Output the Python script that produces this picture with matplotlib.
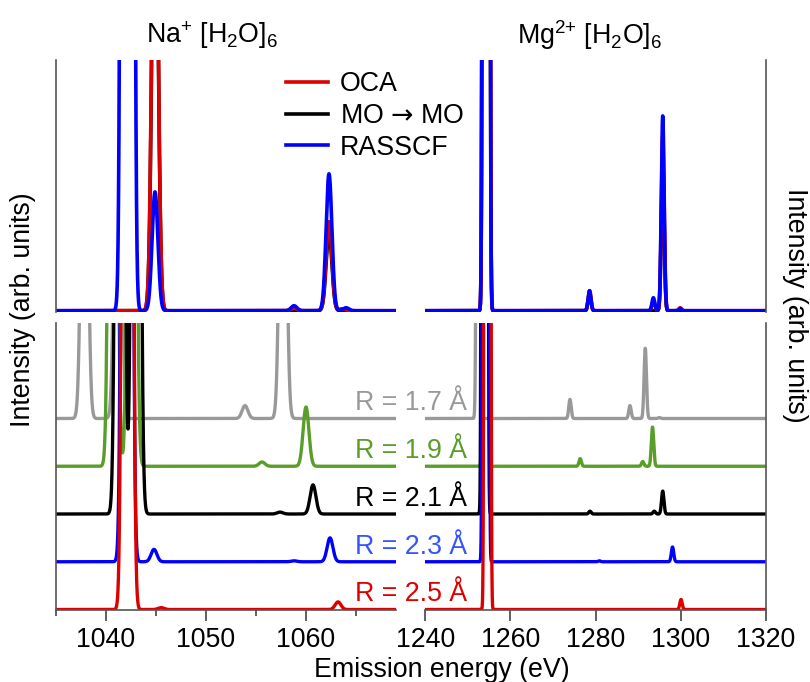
import numpy as np
import matplotlib
matplotlib.use('Agg')
import matplotlib.pyplot as plt
from matplotlib import transforms

#############################################################################################
#                                          DATOS
# picos (posicion en eV, altura); se ensanchan con una gaussiana
# panel superior Na+ [H2O]6
na_oca_pos = [1044.9, 1058.8, 1062.3, 1063.6]
na_oca_int = [2.1, 0.01, 0.355, 0.008]
na_mo_pos = [1044.9, 1062.3]
na_mo_int = [2.0, 0.31]
na_ras_pos = [1042.15, 1044.9, 1058.8, 1062.3, 1064.0]
na_ras_int = [55.0, 0.474, 0.02, 0.546, 0.012]

# panel superior Mg2+ [H2O]6
mg_oca_pos = [1254.3, 1278.6, 1293.6, 1295.8, 1299.9]
mg_oca_int = [140.0, 0.08, 0.04, 0.70, 0.012]
mg_mo_pos = [1254.3, 1278.6, 1295.8]
mg_mo_int = [130.0, 0.07, 0.6]
mg_ras_pos = [1254.3, 1278.6, 1293.6, 1295.8, 1299.9]
mg_ras_int = [150.0, 0.08, 0.052, 0.777, 0.008]

# panel inferior: barrido en R
r_labels = ['1.7', '1.9', '2.1', '2.3', '2.5']
r_offsets = [4, 3, 2, 1, 0]
r_colors = ['#999999', '#5a9e2a', '#000000', '#0000ff', '#dd0000']
r_text_colors = ['#999999', '#5a9e2a', '#000000', '#3355ff', '#dd0000']

na_scan_pos = [[1037.85, 1041.2, 1053.9, 1057.7],
               [1040.7, 1042.6, 1055.6, 1060.0],
               [1041.4, 1043.0, 1057.4, 1060.7],
               [1042.1, 1044.8, 1058.8, 1062.4],
               [1042.15, 1045.5, 1063.2]]
na_scan_int = [[10.0, 12.0, 0.27, 10.0],
               [30.0, 30.0, 0.09, 1.24],
               [40.0, 40.0, 0.04, 0.61],
               [90.0, 0.26, 0.02, 0.50],
               [90.0, 0.04, 0.16]]

mg_scan_pos = [[1252.5, 1274.0, 1288.1, 1291.7, 1295.0],
               [1254.2, 1276.4, 1291.1, 1293.4],
               [1253.95, 1278.7, 1293.8, 1295.8],
               [1254.2, 1280.9, 1298.1],
               [1254.6, 1300.1]]
mg_scan_int = [[45.0, 0.40, 0.27, 1.47, 0.02],
               [1000.0, 0.16, 0.10, 0.82],
               [1000.0, 0.06, 0.06, 0.48],
               [1000.0, 0.02, 0.31],
               [1000.0, 0.21]]

#############################################################################################
#                                         FUNCIONES
def espectro( x , pos , alt , sigma ):
    y = np.zeros_like( x )
    for p, a in zip( pos , alt ):
        y += a * np.exp( -( x - p )**2 / ( 2 * sigma**2 ) )
    return y

def solo_spines( ax , lados ):
    for s in ['left', 'right', 'top', 'bottom']:
        ax.spines[s].set_visible( s in lados )
        ax.spines[s].set_color( '#555555' )
        ax.spines[s].set_linewidth( 1.2 )

#############################################################################################
#                                           MAIN
plt.rcParams['font.family'] = ['Liberation Sans', 'DejaVu Sans']
plt.rcParams['mathtext.fontset'] = 'custom'
plt.rcParams['mathtext.rm'] = 'Liberation Sans'
plt.rcParams['mathtext.sf'] = 'DejaVu Sans'
plt.rcParams['mathtext.default'] = 'regular'
fs = 19.3

fig = plt.figure( figsize=( 8.1 , 6.82 ) , dpi=100 )
W, H = 810.0, 682.0
xl0, xl1 = 56, 396
xr0, xr1 = 425.3, 765.7
ax_tl = fig.add_axes( [xl0/W, 1-312/H, (xl1-xl0)/W, 252/H] )
ax_tr = fig.add_axes( [xr0/W, 1-312/H, (xr1-xr0)/W, 252/H] )
ax_bl = fig.add_axes( [xl0/W, 1-610/H, (xl1-xl0)/W, 287/H] )
ax_br = fig.add_axes( [xr0/W, 1-610/H, (xr1-xr0)/W, 287/H] )

x_na = np.linspace( 1035 , 1069 , 4000 )
x_mg = np.linspace( 1240 , 1320 , 6000 )
lw_top = 2.6
lw_bot = 2.4

# arriba
ax_tl.plot( x_na , espectro( x_na , na_mo_pos , na_mo_int , 0.29 ) , color='black' , lw=lw_top ,
            label='MO $\\mathsf{\u2192}$ MO' )
ax_tl.plot( x_na , espectro( x_na , na_oca_pos , na_oca_int , 0.29 ) , color='#dd0000' , lw=lw_top , label='OCA' )
ax_tl.plot( x_na , espectro( x_na , na_ras_pos , na_ras_int , 0.29 ) , color='#0000ff' , lw=lw_top , label='RASSCF' )
ax_tr.plot( x_mg , espectro( x_mg , mg_mo_pos , mg_mo_int , 0.33 ) , color='black' , lw=lw_top )
ax_tr.plot( x_mg , espectro( x_mg , mg_oca_pos , mg_oca_int , 0.33 ) , color='#dd0000' , lw=lw_top )
ax_tr.plot( x_mg , espectro( x_mg , mg_ras_pos , mg_ras_int , 0.33 ) , color='#0000ff' , lw=lw_top )

for ax, xmin, xmax in [( ax_tl , 1035 , 1069 ), ( ax_tr , 1240 , 1320 )]:
    ax.set_xlim( xmin , xmax )
    ax.set_ylim( -0.005 , 1.0 )
    ax.set_xticks( [] )
    ax.set_yticks( [] )
solo_spines( ax_tl , ['left'] )
solo_spines( ax_tr , ['right'] )

# abajo
trans = transforms.blended_transform_factory( fig.transFigure , ax_bl.transData )
for i in range( len( r_labels ) ):
    ax_bl.plot( x_na , r_offsets[i] + espectro( x_na , na_scan_pos[i] , na_scan_int[i] , 0.29 ) ,
                color=r_colors[i] , lw=lw_bot )
    ax_br.plot( x_mg , r_offsets[i] + espectro( x_mg , mg_scan_pos[i] , mg_scan_int[i] , 0.28 ) ,
                color=r_colors[i] , lw=lw_bot )
    fig.text( 411.5/W , r_offsets[i] + 0.17 , 'R = ' + r_labels[i] + ' \u00c5' , transform=trans ,
              ha='center' , va='baseline' , fontsize=fs , color=r_text_colors[i] )

ax_bl.set_xlim( 1035 , 1069 )
ax_br.set_xlim( 1240 , 1320 )
for ax in [ax_bl, ax_br]:
    ax.set_ylim( -0.01 , 6.0 )
    ax.set_yticks( [] )
    ax.tick_params( axis='x' , which='major' , direction='out' , length=8 , width=1.2 ,
                    color='#444444' , labelsize=fs , pad=4 )
    ax.tick_params( axis='x' , which='minor' , direction='out' , length=4.5 , width=1.2 , color='#444444' )
ax_bl.set_xticks( [1040, 1050, 1060] )
ax_bl.set_xticks( [1035, 1045, 1055, 1065] , minor=True )
ax_br.set_xticks( [1240, 1260, 1280, 1300, 1320] )
solo_spines( ax_bl , ['left', 'bottom'] )
solo_spines( ax_br , ['right', 'bottom'] )

# textos
fig.text( 212/W , 1-35/H , 'Na$^{+}$ [H$_2$O]$_6$' , ha='center' , va='center' , fontsize=fs )
fig.text( 589.5/W , 1-35/H , 'Mg$^{2{+}}$ [H$_2$O]$_6$' , ha='center' , va='center' , fontsize=fs )
fig.text( 442/W , (H-677)/H , 'Emission energy (eV)' , ha='center' , va='baseline' , fontsize=fs )
fig.text( 23/W , 1-310/H , 'Intensity (arb. units)' , ha='center' , va='center' , rotation=90 , fontsize=fs )
fig.text( 795/W , 1-305/H , 'Intensity (arb. units)' , ha='center' , va='center' , rotation=-90 , fontsize=fs )

h, l = ax_tl.get_legend_handles_labels()
orden = [1, 0, 2]
fig.legend( [h[k] for k in orden] , [l[k] for k in orden] , loc='upper left' ,
            bbox_to_anchor=( 286/W , 1-71/H ) , frameon=False , fontsize=fs ,
            handlelength=1.55 , handletextpad=0.45 , labelspacing=0.22 ,
            borderpad=0 , borderaxespad=0 )

fig.savefig( 'out.png' , dpi=100 )
